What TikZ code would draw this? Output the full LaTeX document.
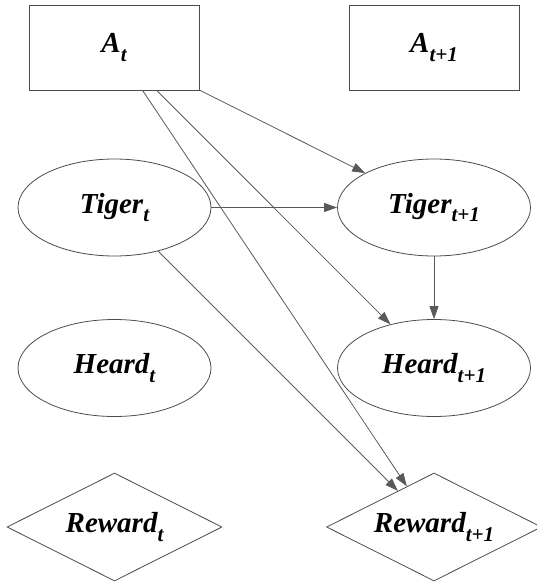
\documentclass[tikz,border=0pt]{standalone}
\usepackage{fontspec}
\setmainfont{Liberation Serif}
\usepackage{tikz}
\usetikzlibrary{positioning,
				shapes.geometric,
				arrows.meta}

\newcommand{\tsub}[1]{\raisebox{-0.28em}{\fontsize{21}{21}\selectfont #1}}

\tikzset{
	lbl/.style={font=\fontsize{29}{34}\selectfont\bfseries\itshape, draw=black!70, line width=0.8pt, inner sep=0pt},
	actbox/.style={lbl, rectangle, minimum width=170pt, minimum height=85pt},
	varnode/.style={lbl, ellipse, minimum width=193pt, minimum height=97pt},
	rewnode/.style={lbl, diamond, aspect=2, minimum width=215pt, minimum height=108pt},
	dep/.style={draw=black!65, line width=0.8pt, -{Triangle[length=13pt,width=9pt]}}
}

\begin{document}
\begin{tikzpicture}[x=1pt,y=-1pt]
		\useasboundingbox (0,0) rectangle (537,583);

		\node[actbox] (a0) at (114,47.5) {A\tsub{t}};
		\node[actbox] (a1) at (434,47.5) {A\tsub{t+1}};
		\node[varnode] (tiger0) at (114.5,207.5) {Tiger\tsub{t}};
		\node[varnode] (tiger1) at (434,207.5) {Tiger\tsub{t+1}};
		\node[varnode] (heard0) at (114.5,368) {Heard\tsub{t}};
		\node[varnode] (heard1) at (434,368) {Heard\tsub{t+1}};
		\node[rewnode] (rew0) at (114.5,527) {Reward\tsub{t}};
		\node[rewnode] (rew1) at (434,527) {Reward\tsub{t+1}};

		\draw[dep] (a0) -- (tiger1);
		\draw[dep] (a0) -- (heard1);
		\draw[dep] (a0) -- (rew1);
		\draw[dep] (tiger0) -- (tiger1);
		\draw[dep] (tiger0) -- (rew1);
		\draw[dep] (tiger1) -- (heard1);
	\end{tikzpicture}
\end{document}
